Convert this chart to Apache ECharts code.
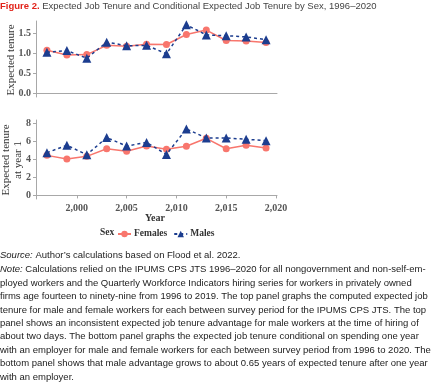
<!DOCTYPE html>
<html><head><meta charset="utf-8">
<script src="https://cdn.jsdelivr.net/npm/echarts@6/dist/echarts.min.js"></script>
<style>html,body{margin:0;padding:0;background:#fff}#c{width:440px;height:383px}</style>
</head><body><div id="c"></div>
<script>
const years = [1997,1999,2001,2003,2005,2007,2009,2011,2013,2015,2017,2019];
const femalesTenure = [1.08,0.96,0.97,1.20,1.18,1.23,1.22,1.47,1.58,1.32,1.31,1.27];
const malesTenure   = [1.03,1.07,0.88,1.28,1.19,1.20,0.99,1.71,1.46,1.44,1.41,1.34];
const femalesYear1  = [4.46,4.05,4.35,5.20,4.91,5.50,5.13,5.47,6.36,5.20,5.58,5.28];
const malesYear1    = [4.76,5.58,4.54,6.44,5.50,5.90,4.57,7.40,6.40,6.40,6.25,6.10];
const xTicks = [2000,2005,2010,2015,2020];
const yTicksTop = [0,0.5,1,1.5];
const yTicksBottom = [0,2,4,6,8];
const titleText = 'Expected Job Tenure and Conditional Expected Job Tenure by Sex, 1996–2020';
const noteLines = [
 'Calculations relied on the IPUMS CPS JTS 1996–2020 for all nongovernment and non-self-em-',
 'ployed workers and the Quarterly Workforce Indicators hiring series for workers in privately owned',
 'firms age fourteen to ninety-nine from 1996 to 2019. The top panel graphs the computed expected job',
 'tenure for male and female workers for each between survey period for the IPUMS CPS JTS. The top',
 'panel shows an inconsistent expected job tenure advantage for male workers at the time of hiring of',
 'about two days. The bottom panel graphs the expected job tenure conditional on spending one year',
 'with an employer for male and female workers for each between survey period from 1996 to 2020. The',
 'bottom panel shows that male advantage grows to about 0.65 years of expected tenure after one year',
 'with an employer.'
];

const FEM = '#f8766d', MAL = '#1c3d8f';
const serif = '"Liberation Serif", "DejaVu Serif", serif';
const sans = '"Liberation Sans", Arial, sans-serif';
const axisLineStyle = {color:'#a8a8a8', width:1};
const tickLabel = {fontFamily:serif, fontWeight:'bold', fontSize:10, color:'#555'};

function xAxis(gi, showLabels){
  return {type:'value', gridIndex:gi, min:1995.9, max:2020.1,
    axisLine:{show:true, lineStyle:axisLineStyle},
    axisTick:{show:showLabels, length:3, lineStyle:axisLineStyle, customValues:xTicks},
    axisLabel:{show:showLabels, ...tickLabel, margin:4, customValues:xTicks},
    splitLine:{show:false}};
}
function yAxis(gi, min, max, ticks, fmt){
  return {type:'value', gridIndex:gi, min:min, max:max,
    axisLine:{show:true, lineStyle:axisLineStyle},
    axisTick:{show:true, length:3, lineStyle:axisLineStyle, customValues:ticks},
    axisLabel:{...tickLabel, margin:5, customValues:ticks, formatter:fmt},
    splitLine:{show:false}};
}
const pairs = (ys) => years.map((y,i)=>[y, ys[i]]);
function femSeries(xi, data){
  return {name:'Females', type:'line', xAxisIndex:xi, yAxisIndex:xi, data:pairs(data),
    symbol:'circle', symbolSize:7, itemStyle:{color:FEM}, lineStyle:{color:FEM, width:1.5}, z:3};
}
function malSeries(xi, data){
  return {name:'Males', type:'line', xAxisIndex:xi, yAxisIndex:xi, data:pairs(data),
    symbol:'triangle', symbolSize:9, itemStyle:{color:MAL}, lineStyle:{color:MAL, width:1.5, type:[3,3]}, z:4};
}

const chart = echarts.init(document.getElementById('c'), null, {renderer:'canvas'});
const noteText = noteLines.map((l,i)=> i===0 ? '{i|Note:} ' + l : l).join('\n');
const FS = 9.5;
chart.setOption({
  animation:false,
  grid:[
    {left:36, right:163, top:21, height:76},
    {left:36, right:163, top:120, height:79}
  ],
  xAxis:[xAxis(0,false), xAxis(1,true)],
  yAxis:[
    yAxis(0,-0.086,1.806,yTicksTop,(v)=>v.toFixed(1)),
    yAxis(1,-0.4,8.4,yTicksBottom,(v)=>String(v))
  ],
  legend:{data:['Females','Males'], left:112, top:224, itemWidth:13, itemHeight:8, itemGap:6,
    textStyle:{fontFamily:serif, fontWeight:'bold', fontSize:9.5, color:'#333', padding:[0,0,0,-2]}},
  series:[
    femSeries(0,femalesTenure), malSeries(0,malesTenure),
    femSeries(1,femalesYear1), malSeries(1,malesYear1)
  ],
  graphic:[
    {type:'text', left:0, top:1, style:{text:'{r|Figure 2.} ' + titleText, fontFamily:sans, fontSize:FS, fill:'#444',
      rich:{r:{fill:'#e2231a', fontWeight:'bold', fontFamily:sans, fontSize:FS}}}},
    {type:'text', x:11, y:60, rotation:Math.PI/2, style:{text:'Expected tenure', fontFamily:serif, fontSize:11, fill:'#333', align:'center', verticalAlign:'middle'}},
    {type:'text', x:12, y:160, rotation:Math.PI/2, style:{text:'Expected tenure\nat year 1', fontFamily:serif, fontSize:11, fill:'#333', align:'center', verticalAlign:'middle', lineHeight:12}},
    {type:'text', x:155, y:218, style:{text:'Year', fontFamily:serif, fontWeight:'bold', fontSize:10, fill:'#333', align:'center', verticalAlign:'middle'}},
    {type:'text', x:100, y:233, style:{text:'Sex', fontFamily:serif, fontWeight:'bold', fontSize:9.5, fill:'#333', verticalAlign:'middle'}},
    {type:'text', x:0, y:250, style:{text:'{i|Source:} Author’s calculations based on Flood et al. 2022.', fontFamily:sans, fontSize:FS, fill:'#222',
      rich:{i:{fontStyle:'italic', fontFamily:sans, fontSize:FS, fill:'#222'}}}},
    {type:'text', x:0, y:263, style:{text:noteText, fontFamily:sans, fontSize:FS, lineHeight:13.4, fill:'#222',
      rich:{i:{fontStyle:'italic', fontFamily:sans, fontSize:FS, fill:'#222', lineHeight:13.4}}}}
  ]
});
</script></body></html>
